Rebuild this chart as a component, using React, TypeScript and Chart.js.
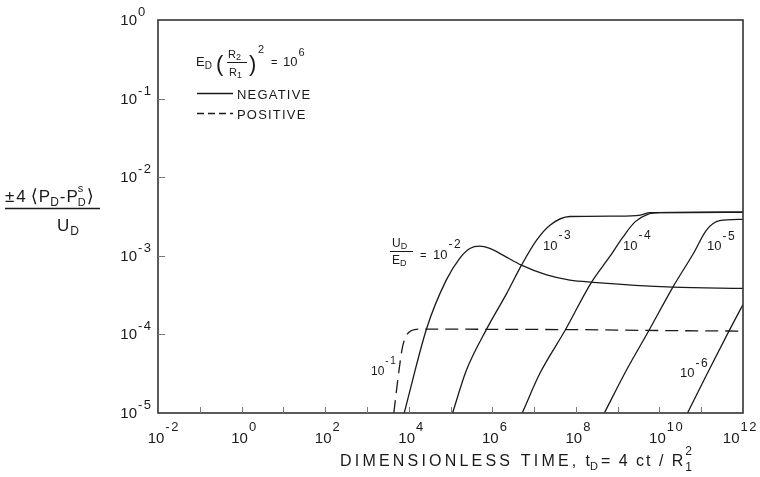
import { useEffect, useRef } from 'react';
import { Chart, registerables } from 'chart.js';

Chart.register(...registerables);

const FONT = '"Liberation Sans", "DejaVu Sans", Arial, sans-serif';
const INK = '#1a1a1a';

// Axis decades
const xTickExps = [-1, 0, 1, 2, 3, 4, 5, 6, 7, 8, 9, 10, 11];
const xLabelExps = [-2, 0, 2, 4, 6, 8, 10, 12];
const yTickExps = [-1, -2, -3, -4];
const yLabelExps = [0, -1, -2, -3, -4, -5];

// POSITIVE, U_D/E_D = 10^-1 (dashed)
const posT = [4.4e3, 5.6e3, 7.1e3, 8.9e3, 1.17e4, 1.86e4, 1e6, 1e8, 1e10, 1e12];
const posY = [1.0e-5, 2.9e-5, 6.9e-5, 9.8e-5, 1.12e-4, 1.17e-4, 1.16e-4, 1.15e-4, 1.12e-4, 1.1e-4];

// NEGATIVE curves (solid)
const neg2T = [7.8e3, 2.7e4, 7.9e4, 1.66e5, 2.9e5, 5.0e5, 8.7e5, 1.8e6, 5.0e6, 2.0e7, 7.2e7, 2.6e8, 2.1e10, 1e12];
const neg2Y = [1e-5, 1.2e-4, 4.9e-4, 9.3e-4, 1.24e-3, 1.33e-3, 1.24e-3, 1.02e-3, 7.6e-4, 5.7e-4, 4.9e-4, 4.6e-4, 4.0e-4, 3.85e-4];

const neg3T = [1.12e5, 2.4e5, 7.2e5, 2.2e6, 5.0e6, 1.15e7, 2.4e7, 7.2e7, 1e9, 3.5e9, 6e9, 1e12];
const neg3Y = [1e-5, 3.5e-5, 1.15e-4, 3.3e-4, 7.6e-4, 1.58e-3, 2.45e-3, 3.16e-3, 3.2e-3, 3.3e-3, 3.55e-3, 3.58e-3];

const neg4T = [5.2e6, 1.38e7, 5.5e7, 2.3e8, 6.5e8, 1.35e9, 2.6e9, 5.4e9, 1.02e10, 1e12];
const neg4Y = [1e-5, 3.2e-5, 1.12e-4, 4.5e-4, 9.8e-4, 1.74e-3, 2.7e-3, 3.4e-3, 3.55e-3, 3.58e-3];

const neg5T = [4.8e8, 1.62e9, 5.6e9, 2.1e10, 6.5e10, 1.35e11, 2.75e11, 1e12];
const neg5Y = [1e-5, 3.5e-5, 1.12e-4, 4.0e-4, 1.07e-3, 2.14e-3, 2.8e-3, 2.91e-3];

const neg6T = [4.7e10, 1.32e11, 4.8e11, 1e12];
const neg6Y = [1e-5, 3.0e-5, 1.15e-4, 2.4e-4];

const pts = (t: number[], y: number[]) => t.map((x, i) => ({ x, y: y[i] }));

type Seg = { t: string; size: number; dy?: number; sp?: number; gap?: number; sub?: string; sup?: string };

function setFont(ctx: CanvasRenderingContext2D, size: number, sp = 0) {
  ctx.font = `${size}px ${FONT}`;
  (ctx as any).letterSpacing = `${sp}px`;
}

function run(ctx: CanvasRenderingContext2D, x: number, y: number, segs: Seg[]) {
  let cx = x;
  ctx.textAlign = 'left';
  ctx.textBaseline = 'alphabetic';
  for (const s of segs) {
    if (s.sub !== undefined || s.sup !== undefined) {
      let w = 0;
      if (s.sup !== undefined) {
        setFont(ctx, s.size);
        ctx.fillText(s.sup, cx, y - s.size * 0.9);
        w = Math.max(w, ctx.measureText(s.sup).width);
      }
      if (s.sub !== undefined) {
        setFont(ctx, s.size);
        ctx.fillText(s.sub, cx, y + s.size * 0.4);
        w = Math.max(w, ctx.measureText(s.sub).width);
      }
      cx += w + (s.gap || 0);
      continue;
    }
    setFont(ctx, s.size, s.sp || 0);
    ctx.fillText(s.t, cx, y + (s.dy || 0));
    cx += ctx.measureText(s.t).width + (s.gap || 0);
  }
  (ctx as any).letterSpacing = '0px';
  return cx;
}

function expStr(e: number) {
  return e < 0 ? '-' + Math.abs(e) : String(e);
}

// "10" with exponent; x = left edge of "10", y = baseline of "10"
function pow10(ctx: CanvasRenderingContext2D, e: number, x: number, y: number, size: number, eSize: number, rise: number) {
  ctx.textAlign = 'left';
  ctx.textBaseline = 'alphabetic';
  setFont(ctx, size);
  ctx.fillText('10', x, y);
  const w = ctx.measureText('10').width;
  setFont(ctx, eSize, 1.5);
  ctx.fillText(expStr(e), x + w + 1, y - rise);
  const we = ctx.measureText(expStr(e)).width;
  (ctx as any).letterSpacing = '0px';
  return w + 1 + we;
}

function widthPow(ctx: CanvasRenderingContext2D, e: number, size: number, eSize: number) {
  setFont(ctx, size);
  const w = ctx.measureText('10').width;
  setFont(ctx, eSize, 1.5);
  const we = ctx.measureText(expStr(e)).width;
  (ctx as any).letterSpacing = '0px';
  return { w, total: w + 1 + we };
}

const annotPlugin = {
  id: 'annot',
  afterDraw(chart: any) {
    const { ctx, chartArea: a, scales } = chart;
    const xs = scales.x;
    const ys = scales.y;
    ctx.save();
    ctx.fillStyle = INK;
    ctx.strokeStyle = '#333';
    ctx.setLineDash([]);

    // frame
    ctx.lineWidth = 1.6;
    ctx.strokeRect(a.left, a.top, a.right - a.left, a.bottom - a.top);

    // ticks
    ctx.lineWidth = 1;
    ctx.strokeStyle = '#777';
    ctx.beginPath();
    for (const e of xTickExps) {
      const px = Math.round(xs.getPixelForValue(Math.pow(10, e))) + 0.5;
      ctx.moveTo(px, a.bottom);
      ctx.lineTo(px, a.bottom - 6);
    }
    for (const e of yTickExps) {
      const py = Math.round(ys.getPixelForValue(Math.pow(10, e))) + 0.5;
      ctx.moveTo(a.left, py);
      ctx.lineTo(a.left + 7, py);
    }
    ctx.stroke();

    // x tick labels
    for (const e of xLabelExps) {
      const px = xs.getPixelForValue(Math.pow(10, e));
      const m = widthPow(ctx, e, 15, 13);
      let left = px - 2 - m.w / 2;
      if (left + m.total > chart.width - 2) left = chart.width - 2 - m.total;
      pow10(ctx, e, left, 443, 15, 13, 12);
    }

    // y tick labels
    for (const e of yLabelExps) {
      const py = ys.getPixelForValue(Math.pow(10, e));
      const m = widthPow(ctx, e, 15, 13);
      pow10(ctx, e, 137 - m.w, py + 5, 15, 13, 9);
    }

    // x axis title
    run(ctx, 340, 466, [
      { t: 'DIMENSIONLESS TIME,', size: 16, sp: 3.2, gap: 6 },
      { t: 't', size: 16 },
      { t: 'D', size: 11, dy: 4, gap: 3 },
      { t: '= 4 ct / R', size: 16, sp: 2 },
      { t: '', size: 12, sub: '1', sup: '2' },
    ]);

    // y axis title (fraction)
    run(ctx, 5, 202, [
      { t: '±4', size: 17, sp: 2, gap: 3 },
      { t: '⟨', size: 18, gap: 1 },
      { t: 'P', size: 17 },
      { t: 'D', size: 12, dy: 4, gap: 1 },
      { t: '-', size: 17, gap: 1 },
      { t: 'P', size: 17 },
      { t: '', size: 11, sub: 'D', sup: 's', gap: 1 },
      { t: '⟩', size: 18 },
    ]);
    ctx.strokeStyle = INK;
    ctx.lineWidth = 1.3;
    ctx.beginPath();
    ctx.moveTo(5, 208.5);
    ctx.lineTo(100, 208.5);
    ctx.stroke();
    run(ctx, 57, 231, [
      { t: 'U', size: 17, gap: 1 },
      { t: 'D', size: 12, dy: 4 },
    ]);

    // Legend block
    run(ctx, 196, 66, [
      { t: 'E', size: 13 },
      { t: 'D', size: 10, dy: 3, gap: 4 },
      { t: '(', size: 22, dy: 5, gap: 1 },
    ]);
    run(ctx, 228, 58, [{ t: 'R', size: 11 }, { t: '2', size: 9, dy: 2 }]);
    ctx.beginPath();
    ctx.lineWidth = 1;
    ctx.moveTo(227, 62.5);
    ctx.lineTo(247, 62.5);
    ctx.stroke();
    run(ctx, 229, 76, [{ t: 'R', size: 11 }, { t: '1', size: 9, dy: 2 }]);
    run(ctx, 249, 71, [{ t: ')', size: 22, gap: 1 }]);
    run(ctx, 258, 53, [{ t: '2', size: 11 }]);
    run(ctx, 271, 66, [{ t: '=', size: 11 }]);
    pow10(ctx, 6, 283, 66, 13, 11, 10);

    ctx.lineWidth = 1.3;
    ctx.strokeStyle = INK;
    ctx.beginPath();
    ctx.moveTo(197, 93.5);
    ctx.lineTo(233, 93.5);
    ctx.stroke();
    ctx.setLineDash([7, 4]);
    ctx.beginPath();
    ctx.moveTo(197, 113.5);
    ctx.lineTo(233, 113.5);
    ctx.stroke();
    ctx.setLineDash([]);
    run(ctx, 237, 99, [{ t: 'NEGATIVE', size: 13, sp: 1.2 }]);
    run(ctx, 237, 119, [{ t: 'POSITIVE', size: 13, sp: 1.2 }]);

    // curve labels
    run(ctx, 392, 247, [{ t: 'U', size: 12 }, { t: 'D', size: 9, dy: 2 }]);
    ctx.beginPath();
    ctx.lineWidth = 1;
    ctx.moveTo(390, 251.5);
    ctx.lineTo(413, 251.5);
    ctx.stroke();
    run(ctx, 392, 264, [{ t: 'E', size: 12 }, { t: 'D', size: 9, dy: 2 }]);
    run(ctx, 420, 259, [{ t: '=', size: 11 }]);
    pow10(ctx, -2, 433, 259, 13, 12, 11);
    pow10(ctx, -3, 543, 250, 13, 12, 11);
    pow10(ctx, -4, 623, 250, 13, 12, 11);
    pow10(ctx, -5, 707, 250, 13, 12, 10);
    pow10(ctx, -6, 680, 377, 13, 12, 10);
    pow10(ctx, -1, 371, 375, 12, 10, 11);

    ctx.restore();
  },
};

export default function App() {
  const ref = useRef<HTMLCanvasElement | null>(null);

  useEffect(() => {
    if (!ref.current) return;
    const line = (data: { x: number; y: number }[], dashed = false) => ({
      data,
      borderColor: INK,
      borderWidth: 1.3,
      borderDash: dashed ? [13, 7] : [],
      pointRadius: 0,
      fill: false,
      cubicInterpolationMode: 'monotone' as const,
    });
    const chart = new Chart(ref.current, {
      type: 'line',
      data: {
        datasets: [
          { label: 'POSITIVE 1e-1', ...line(pts(posT, posY), true) },
          { label: 'NEGATIVE 1e-2', ...line(pts(neg2T, neg2Y)) },
          { label: 'NEGATIVE 1e-3', ...line(pts(neg3T, neg3Y)) },
          { label: 'NEGATIVE 1e-4', ...line(pts(neg4T, neg4Y)) },
          { label: 'NEGATIVE 1e-5', ...line(pts(neg5T, neg5Y)) },
          { label: 'NEGATIVE 1e-6', ...line(pts(neg6T, neg6Y)) },
        ],
      },
      options: {
        animation: false,
        responsive: false,
        devicePixelRatio: 1,
        layout: { padding: { left: 158, top: 20, right: 17, bottom: 64 } },
        plugins: { legend: { display: false }, tooltip: { enabled: false } },
        scales: {
          x: { type: 'logarithmic', min: 1e-2, max: 1e12, display: false },
          y: { type: 'logarithmic', min: 1e-5, max: 1, display: false },
        },
      },
      plugins: [annotPlugin],
    } as any);
    return () => chart.destroy();
  }, []);

  return (
    <canvas
      ref={ref}
      width={760}
      height={477}
      style={{ position: 'absolute', left: 0, top: 0, width: 760, height: 477, display: 'block', background: '#fff' }}
    />
  );
}
